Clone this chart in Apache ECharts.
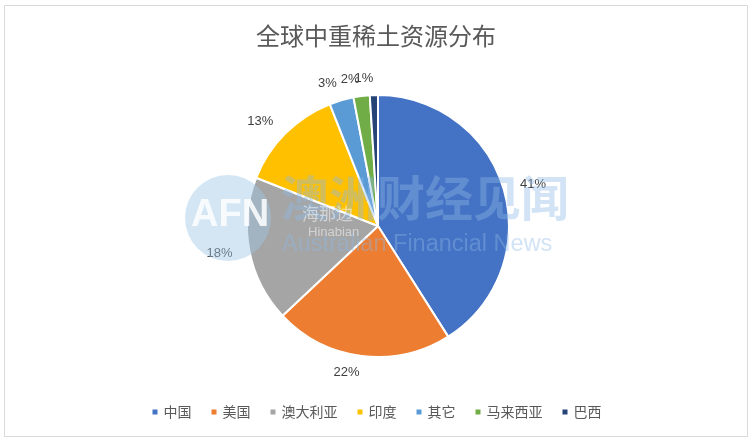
<!DOCTYPE html>
<html><head><meta charset="utf-8">
<script src="https://cdn.jsdelivr.net/npm/echarts@6/dist/echarts.min.js"></script>
<style>html,body{margin:0;padding:0;background:#fff}#c{width:752px;height:442px}</style>
</head><body><div id="c"></div>
<script>
const title = '全球中重稀土资源分布';
const categories = ['中国','美国','澳大利亚','印度','其它','马来西亚','巴西'];
const values = [41,22,18,13,3,2,1];
const colors = ['#4472C4','#ED7D31','#A5A5A5','#FFC000','#5B9BD5','#70AD47','#264478'];

const chart = echarts.init(document.getElementById('c'), null, {renderer:'canvas'});
const font = '"Noto Sans CJK SC", "Microsoft YaHei", sans-serif';
chart.setOption({
  animation:false,
  color: colors,
  title:{text:title,left:'center',top:19,textStyle:{fontFamily:font,fontSize:24,fontWeight:'normal',color:'#595959'}},
  legend:{bottom:18,left:'center',itemWidth:7,itemHeight:7,itemGap:18,icon:'rect',
    textStyle:{fontFamily:font,fontSize:14,color:'#595959'},data:categories},
  graphic:[
    {type:'rect',shape:{x:4.5,y:5.5,width:743,height:431},style:{fill:'none',stroke:'#d9d9d9',lineWidth:1},z:-1},
    {type:'circle',shape:{cx:228,cy:218,r:43},style:{fill:'rgba(160,200,230,0.45)'},z:100},
    {type:'text',left:191,top:197,style:{text:'AFN',fontSize:38,fontWeight:'bold',fontFamily:'Liberation Sans',fill:'rgba(255,255,255,0.85)'},z:101},
    {type:'text',left:281,top:174,style:{text:'澳洲财经见闻',fontSize:48,fontWeight:'bold',fontFamily:font,fill:'rgba(140,185,230,0.4)'},z:100},
    {type:'text',left:282,top:233,style:{text:'Australian Financial News',fontSize:23.5,fontFamily:'Liberation Sans',fill:'rgba(140,185,230,0.4)'},z:100},
    {type:'text',left:302,top:205,style:{text:'海那边',fontSize:17,fontFamily:font,fill:'rgba(255,255,255,0.5)'},z:101},
    {type:'text',left:308,top:226,style:{text:'Hinabian',fontSize:13,fontFamily:'Liberation Sans',fill:'rgba(255,255,255,0.5)'},z:101}
  ],
  series:[{
    type:'pie',
    center:[378,226],
    radius:[0,131],
    startAngle:90,
    clockwise:true,
    avoidLabelOverlap:false,
    labelLayout:{hideOverlap:false},
    itemStyle:{borderColor:'#fff',borderWidth:2},
    label:{show:true,position:'outside',formatter:'{c}%',fontFamily:'Liberation Sans, sans-serif',fontSize:13,color:'#404040',distanceToLabelLine:0},
    labelLine:{show:false,length:17,length2:0},
    data:categories.map((n,i)=>({name:n,value:values[i]}))
  }]
});
</script></body></html>
